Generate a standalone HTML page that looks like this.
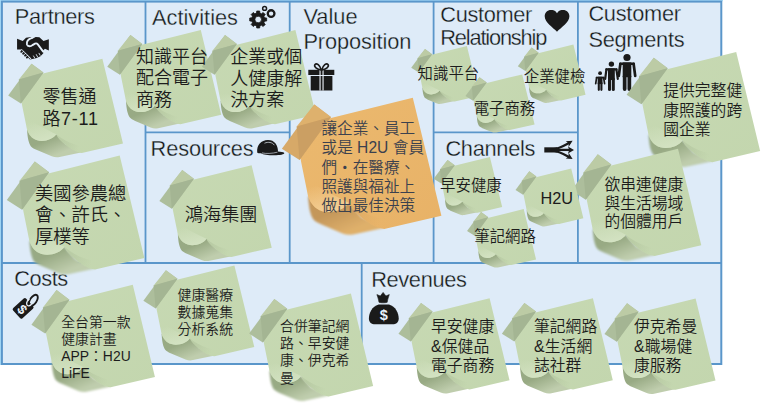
<!DOCTYPE html>
<html lang="zh-Hant"><head><meta charset="utf-8"><title>Business Model Canvas</title>
<style>html,body{margin:0;padding:0;background:#fff}svg{display:block}.t{font-family:"Liberation Sans",sans-serif;fill:#161616;stroke:#deebf8;stroke-width:0.3px;paint-order:fill stroke}.c{font-family:"Liberation Sans","Noto Sans CJK TC",sans-serif;fill:#1c1c1c;font-weight:350}</style></head><body>
<svg width="766" height="403" viewBox="0 0 766 403">
<defs><filter id="bl" x="-20%" y="-20%" width="140%" height="140%"><feGaussianBlur stdDeviation="0.9"/></filter>
<linearGradient id="fg-g" x1="0" y1="0" x2="1" y2="1"><stop offset="0" stop-color="#c7d9b3"/><stop offset="1" stop-color="#c3d6ae"/></linearGradient>
<linearGradient id="dg-g" gradientUnits="userSpaceOnUse" x1="-66" y1="95" x2="-58" y2="114"><stop offset="0" stop-color="#98aa84"/><stop offset="1" stop-color="#bfcdad"/></linearGradient>
<linearGradient id="hg-g" gradientUnits="userSpaceOnUse" x1="-76" y1="72" x2="-70" y2="96"><stop offset="0" stop-color="#d3e2c2" stop-opacity="0"/><stop offset="1" stop-color="#d3e2c2"/></linearGradient>
<radialGradient id="sg-g" cx="-50" cy="96" r="24" gradientUnits="userSpaceOnUse"><stop offset="0" stop-color="#98aa84" stop-opacity="0.28"/><stop offset="1" stop-color="#98aa84" stop-opacity="0"/></radialGradient>
<g id="note-g">
<path d="M-87.8,82.7 C-87.3,92 -86,98 -83.5,101.8 C-82,103.5 -80,104.6 -77,106 L-59,113.6 C-56,114.8 -53,115 -50,114.4 L-23.6,108.8 L-43,100 L-53.8,88 Z" fill="url(#dg-g)" filter="url(#bl)"/>
<path d="M-97.4,24.2 L0,0 L24,98.7 L-24,109.8 C-31,109 -37.5,105 -43,100.3 C-48,96 -52,93 -53.8,88 C-57.5,94 -68,97.2 -76,95 C-82.5,93 -86,88 -87.8,82.7 L-93.8,53.2 Z" fill="url(#fg-g)"/>
<path d="M-53.8,88 C-52,93 -48,96 -43,100.3 C-37.5,105 -31,109 -24,109.8 L2,103.8 C-22,105 -41,99 -53.8,88 Z" fill="url(#sg-g)"/>
<path d="M-87.8,82.7 C-86,88 -82.5,93 -76,95 C-68,97.2 -57.5,94 -53.8,88 C-63,83 -80,76 -91,66 Z" fill="url(#hg-g)"/>
<polygon points="-82.6,5.7 -68.7,16.1 -95,52.1 -109.8,42.7" fill="#adbe9c"/>
<polygon points="-82.6,5.7 -68.7,16.1 -97.4,24.2" fill="#bccba5"/>
<polygon points="-97.4,24.2 -68.7,16.1 -95,52.1" fill="#a4b593"/>
</g>
<linearGradient id="fg-o" x1="0" y1="0" x2="1" y2="1"><stop offset="0" stop-color="#ebb96f"/><stop offset="1" stop-color="#e8b267"/></linearGradient>
<linearGradient id="dg-o" gradientUnits="userSpaceOnUse" x1="-66" y1="95" x2="-58" y2="114"><stop offset="0" stop-color="#c4975a"/><stop offset="1" stop-color="#dfb06b"/></linearGradient>
<linearGradient id="hg-o" gradientUnits="userSpaceOnUse" x1="-76" y1="72" x2="-70" y2="96"><stop offset="0" stop-color="#f4d097" stop-opacity="0"/><stop offset="1" stop-color="#f4d097"/></linearGradient>
<radialGradient id="sg-o" cx="-50" cy="96" r="24" gradientUnits="userSpaceOnUse"><stop offset="0" stop-color="#c4975a" stop-opacity="0.28"/><stop offset="1" stop-color="#c4975a" stop-opacity="0"/></radialGradient>
<g id="note-o">
<path d="M-87.8,82.7 C-87.3,92 -86,98 -83.5,101.8 C-82,103.5 -80,104.6 -77,106 L-59,113.6 C-56,114.8 -53,115 -50,114.4 L-23.6,108.8 L-43,100 L-53.8,88 Z" fill="url(#dg-o)" filter="url(#bl)"/>
<path d="M-97.4,24.2 L0,0 L24,98.7 L-24,109.8 C-31,109 -37.5,105 -43,100.3 C-48,96 -52,93 -53.8,88 C-57.5,94 -68,97.2 -76,95 C-82.5,93 -86,88 -87.8,82.7 L-93.8,53.2 Z" fill="url(#fg-o)"/>
<path d="M-53.8,88 C-52,93 -48,96 -43,100.3 C-37.5,105 -31,109 -24,109.8 L2,103.8 C-22,105 -41,99 -53.8,88 Z" fill="url(#sg-o)"/>
<path d="M-87.8,82.7 C-86,88 -82.5,93 -76,95 C-68,97.2 -57.5,94 -53.8,88 C-63,83 -80,76 -91,66 Z" fill="url(#hg-o)"/>
<polygon points="-82.6,5.7 -68.7,16.1 -95,52.1 -109.8,42.7" fill="#d7a968"/>
<polygon points="-82.6,5.7 -68.7,16.1 -97.4,24.2" fill="#deb16d"/>
<polygon points="-97.4,24.2 -68.7,16.1 -95,52.1" fill="#cb9f63"/>
</g></defs>
<rect x="0" y="0" width="766" height="403" fill="#fff"/>
<rect x="0" y="0" width="723" height="1.2" fill="#a8dcf8"/><rect x="0" y="0" width="1.2" height="365" fill="#a8dcf8"/>
<rect x="1.9" y="1.6" width="719.4" height="362.4" fill="#deebf8" stroke="#5a96ca" stroke-width="2"/>
<line x1="145.5" y1="1.5" x2="145.5" y2="263" stroke="#5a96ca" stroke-width="1.8"/>
<line x1="289.7" y1="1.5" x2="289.7" y2="263" stroke="#5a96ca" stroke-width="1.8"/>
<line x1="433.6" y1="1.5" x2="433.6" y2="263" stroke="#5a96ca" stroke-width="1.8"/>
<line x1="577.9" y1="1.5" x2="577.9" y2="263" stroke="#5a96ca" stroke-width="1.8"/>
<line x1="361.7" y1="263" x2="361.7" y2="364" stroke="#5a96ca" stroke-width="1.8"/>
<line x1="1.9" y1="263" x2="721.3" y2="263" stroke="#5a96ca" stroke-width="1.8"/>
<line x1="145.5" y1="132.4" x2="289.7" y2="132.4" stroke="#5a96ca" stroke-width="1.8"/>
<line x1="433.6" y1="132.4" x2="577.9" y2="132.4" stroke="#5a96ca" stroke-width="1.8"/>
<text class="t" x="14.8" y="23.5" font-size="21.8" textLength="80" lengthAdjust="spacing">Partners</text>
<text class="t" x="152" y="24.5" font-size="21.8" textLength="86" lengthAdjust="spacing">Activities</text>
<text class="t" x="303.4" y="23.8" font-size="21.8">Value</text>
<text class="t" x="303.4" y="49.4" font-size="21.8" textLength="108" lengthAdjust="spacing">Proposition</text>
<text class="t" x="440.3" y="22" font-size="21.8" textLength="92" lengthAdjust="spacing">Customer</text>
<text class="t" x="440.3" y="44.9" font-size="21.8" textLength="107" lengthAdjust="spacing">Relationship</text>
<text class="t" x="588.4" y="21.4" font-size="21.8" textLength="92.6" lengthAdjust="spacing">Customer</text>
<text class="t" x="588.4" y="47.4" font-size="21.8" textLength="96.2" lengthAdjust="spacing">Segments</text>
<text class="t" x="150.6" y="155.6" font-size="21.8" textLength="103" lengthAdjust="spacing">Resources</text>
<text class="t" x="445.4" y="155.6" font-size="21.8" textLength="90" lengthAdjust="spacing">Channels</text>
<text class="t" x="14.2" y="286.4" font-size="21.8" textLength="54" lengthAdjust="spacing">Costs</text>
<text class="t" x="371.2" y="286.6" font-size="21.8" textLength="95.6" lengthAdjust="spacing">Revenues</text>
<g transform="translate(10,32) scale(0.07440)" fill="#1a1a1a">
<path d="M95,92 L172,120 L215,78 L285,68 L302,92 L345,66 L395,70 L450,122 L522,98 L522,250 L470,225 L445,250 L448,285 L410,325 L350,352 L300,364 L268,368 L150,250 L150,235 L95,235 Z"/>
<path d="M296,80 C250,96 220,130 228,168 C238,202 282,196 302,176 L336,156 C352,149 364,154 374,166 L446,264" fill="none" stroke="#e6f0fa" stroke-width="25" stroke-linecap="round"/>
<path d="M152,232 L282,362" fill="none" stroke="#e6f0fa" stroke-width="14"/>
<g stroke="#1a1a1a" stroke-width="25" stroke-linecap="round"><path d="M159,259 L151,267"/><path d="M184,285 L176,292"/><path d="M209,310 L202,318"/><path d="M235,336 L227,343"/></g>
<g stroke="#e6f0fa" stroke-width="12" stroke-linecap="round"><path d="M316,322 L332,350"/><path d="M354,304 L370,334"/><path d="M390,286 L404,312"/></g>
</g>
<path d="M266.67,18.02 L266.67,20.98 L264.59,21.14 L263.88,22.86 L265.24,24.45 L263.15,26.54 L261.56,25.18 L259.84,25.89 L259.68,27.97 L256.72,27.97 L256.56,25.89 L254.84,25.18 L253.25,26.54 L251.16,24.45 L252.52,22.86 L251.81,21.14 L249.73,20.98 L249.73,18.02 L251.81,17.86 L252.52,16.14 L251.16,14.55 L253.25,12.46 L254.84,13.82 L256.56,13.11 L256.72,11.03 L259.68,11.03 L259.84,13.11 L261.56,13.82 L263.15,12.46 L265.24,14.55 L263.88,16.14 L264.59,17.86 Z M261.5,19.5 A3.3,3.3 0 1,0 254.89999999999998,19.5 A3.3,3.3 0 1,0 261.5,19.5 Z" fill="#1a1a1a" fill-rule="evenodd" stroke="#1a1a1a" stroke-width="0.8" stroke-linejoin="round"/>
<circle cx="271.1" cy="13.6" r="3.35" fill="none" stroke="#1a1a1a" stroke-width="2.3"/>
<circle cx="264.6" cy="8.4" r="1.95" fill="none" stroke="#1a1a1a" stroke-width="1.5"/>
<g fill="#1a1a1a">
<rect x="308.3" y="69.8" width="26" height="5.2"/>
<rect x="310.7" y="76" width="21.7" height="14.5"/>
<rect x="319.5" y="69.8" width="1.1" height="20.7" fill="#eef4fb"/><rect x="322.5" y="69.8" width="1.1" height="20.7" fill="#eef4fb"/>
<path d="M321.2,70 C317,69.5 313.5,66.5 315,64.5 C316.5,62.8 320,65 321.2,70 Z M321.8,70 C326,69.5 329.5,66.5 328,64.5 C326.5,62.8 323,65 321.8,70 Z" fill="none" stroke="#1a1a1a" stroke-width="1.6"/>
</g>
<g fill="#1a1a1a">
<path d="M257.2,152.4 C256.6,145 261,140.1 268,140.1 C274.5,140.1 278,145 278,151.5 C280.5,151.6 283.5,152 284.3,153 C284.6,154.6 279,155.4 272,155.2 C266,155 261.5,154 261,153.2 C259.5,153.2 257.8,153 257.2,152.4 Z"/>
<path d="M264.5,143.2 C268,141.6 272.5,142.2 274.3,145.2" fill="none" stroke="#eaf2fb" stroke-width="0.7"/>
<path d="M262,152.9 C266,153.8 272,153.6 277.5,152.2" fill="none" stroke="#eaf2fb" stroke-width="0.6"/>
</g>
<path d="M557,13.2 C558.5,10.6 561,10.1 563,10.1 C566.6,10.1 569.4,12.8 569.4,16.3 C569.4,22.5 561,27.5 557,31.8 C553,27.5 544.7,22.5 544.7,16.3 C544.7,12.8 547.4,10.1 551,10.1 C553,10.1 555.5,10.6 557,13.2 Z" fill="#1a1a1a"/>
<g stroke="#1a1a1a" fill="#1a1a1a" stroke-linecap="round" stroke-linejoin="round"><circle cx="627.0" cy="57.5" r="3.6" stroke="none"/><path d="M620.4,63.75 L633.6,63.75" stroke-width="2.7" fill="none"/><path d="M620.4,63.75 L618.8,75.9" stroke-width="2.7" fill="none"/><path d="M633.6,63.75 L635.2,75.9" stroke-width="2.7" fill="none"/><rect x="622.7" y="62.4" width="8.6" height="14.82" stroke="none"/><path d="M624.65,76.22 L624.65,89.05000000000001" stroke-width="3.7" fill="none"/><path d="M629.35,76.22 L629.35,89.05000000000001" stroke-width="3.7" fill="none"/></g>
<g stroke="#1a1a1a" fill="#1a1a1a" stroke-linecap="round" stroke-linejoin="round"><circle cx="611.4" cy="64.1" r="2.7" stroke="none"/><path d="M606.4,69.39999999999999 L616.4,69.39999999999999" stroke-width="2.2" fill="none"/><path d="M606.4,69.39999999999999 L605.1999999999999,78.8" stroke-width="2.2" fill="none"/><path d="M616.4,69.39999999999999 L617.8,78.8" stroke-width="2.2" fill="none"/><rect x="608.0" y="68.3" width="6.8" height="11.75200000000001" stroke="none"/><path d="M609.5,79.052 L609.5,89.4" stroke-width="3.0" fill="none"/><path d="M613.3,79.052 L613.3,89.4" stroke-width="3.0" fill="none"/></g>
<g stroke="#1a1a1a" fill="#1a1a1a" stroke-linecap="round" stroke-linejoin="round"><circle cx="600.1" cy="73.2" r="1.9" stroke="none"/><path d="M596.6,77.55 L603.6,77.55" stroke-width="1.7" fill="none"/><path d="M596.6,77.55 L595.7,83.7" stroke-width="1.7" fill="none"/><path d="M603.6,77.55 L604.6,83.7" stroke-width="1.7" fill="none"/><rect x="597.7" y="76.7" width="4.8" height="7.384" stroke="none"/><path d="M598.8000000000001,83.084 L598.8000000000001,89.85000000000001" stroke-width="2.1" fill="none"/><path d="M601.4,83.084 L601.4,89.85000000000001" stroke-width="2.1" fill="none"/></g>
<g fill="none" stroke="#1a1a1a" stroke-linecap="butt">
<path d="M544.3,149.9 L557,149.9" stroke-width="5.2"/>
<path d="M552,149.5 C560,148.5 565,145 570,142.3" stroke-width="2.3"/>
<path d="M552,150.3 C560,151.3 565,154.8 570,157.5" stroke-width="2.3"/>
<path d="M555,149.9 L571,149.9" stroke-width="2.3"/>
</g>
<g fill="#1a1a1a"><path d="M574,149.9 L568,146.4 L569.2,149.9 L568,153.4 Z"/><path d="M572.6,140.8 L565.8,141.2 L568.6,143.2 L568.6,147 Z"/><path d="M572.6,159 L565.8,158.6 L568.6,156.6 L568.6,152.8 Z"/></g>
<g transform="translate(23.1,308.4) rotate(-42)">
<rect x="-8.8" y="-6.9" width="17.6" height="13.8" rx="1.8" fill="#1a1a1a"/>
<text x="-1.8" y="4.4" font-family="Liberation Sans, sans-serif" font-weight="bold" font-size="13.5" fill="#eaf2fb" text-anchor="middle" transform="rotate(90 -1.8 0.2)">$</text>
<ellipse cx="13" cy="0.9" rx="6.3" ry="3.3" fill="none" stroke="#1a1a1a" stroke-width="1.9" transform="rotate(-14 13 0.9)"/>
<path d="M8.6,2.6 C5.2,2.8 4.2,0.2 6.2,-1.6 C7.4,-2.6 9.2,-3 10.6,-2.8" fill="none" stroke="#eaf2fb" stroke-width="1.3" stroke-linecap="round"/>
</g>
<g fill="#1a1a1a">
<path d="M378.6,304.5 C372,306.5 368.9,313 368.9,318.5 C368.9,322.5 371.5,324.3 375,324.3 L392.6,324.3 C396.1,324.3 398.7,322.5 398.7,318.5 C398.7,313 395.6,306.5 389,304.5 Z"/>
<path d="M379,302.3 C378.5,299 377.5,296.5 376.9,294.6 L380.3,296 L383.1,292.4 L385.9,296 L389.3,294.6 C388.7,296.5 387.7,299 387.2,302.3 C384.5,303 381.7,303 379,302.3 Z" stroke="#1a1a1a" stroke-width="0.6" stroke-linejoin="round"/>
<text x="383.8" y="319.6" font-family="Liberation Sans, sans-serif" font-weight="bold" font-size="14.5" fill="#eaf2fb" text-anchor="middle">$</text>
</g>
<g transform="translate(119.7,155.6) scale(1.028,1.037)"><use href="#note-g"/></g>
<g transform="translate(102.4,58.8) scale(0.858,0.858)"><use href="#note-g"/></g>
<g transform="translate(200.8,30.1) scale(0.852,0.857)"><use href="#note-g"/></g>
<g transform="translate(295.4,30.1) scale(0.852,0.857)"><use href="#note-g"/></g>
<g transform="translate(251.6,165.2) scale(0.84,0.836)"><use href="#note-g"/></g>
<g transform="translate(412.8,97.7) scale(1.192,1.195)"><use href="#note-o"/></g>
<g transform="translate(466.9,46.1) scale(0.507,0.505)"><use href="#note-g"/></g>
<g transform="translate(522.2,74.4) scale(0.517,0.507)"><use href="#note-g"/></g>
<g transform="translate(573.4,44.5) scale(0.506,0.51)"><use href="#note-g"/></g>
<g transform="translate(489.9,157.0) scale(0.512,0.507)"><use href="#note-g"/></g>
<g transform="translate(523.7,209.1) scale(0.516,0.51)"><use href="#note-g"/></g>
<g transform="translate(736.2,52.0) scale(0.998,1.003)"><use href="#note-g"/></g>
<g transform="translate(678.0,148.8) scale(0.971,0.976)"><use href="#note-g"/></g>
<g transform="translate(571.2,168.4) scale(0.507,0.506)"><use href="#note-g"/></g>
<g transform="translate(132.8,284.8) scale(0.923,0.934)"><use href="#note-g"/></g>
<g transform="translate(234.4,265.5) scale(0.829,0.827)"><use href="#note-g"/></g>
<g transform="translate(350.9,293.6) scale(0.927,0.937)"><use href="#note-g"/></g>
<g transform="translate(489.6,298.2) scale(0.83,0.831)"><use href="#note-g"/></g>
<g transform="translate(592.9,298.2) scale(0.829,0.831)"><use href="#note-g"/></g>
<g transform="translate(695.6,298.4) scale(0.83,0.833)"><use href="#note-g"/></g>
<text class="c" x="42.4" y="103.2" font-size="18">零售通</text>
<text class="c" x="42.4" y="125.1" font-size="18" textLength="55.6" lengthAdjust="spacing">路7-11</text>
<text class="c" x="35" y="199.5" font-size="18.3">美國參農總</text>
<text class="c" x="35" y="221.4" font-size="18.3">會、許氏、</text>
<text class="c" x="35" y="243.3" font-size="18.3">厚樸等</text>
<text class="c" x="136.1" y="62.6" font-size="18">知識平台</text>
<text class="c" x="136.1" y="84.4" font-size="18">配合電子</text>
<text class="c" x="136.1" y="106.2" font-size="18">商務</text>
<text class="c" x="230.3" y="62.8" font-size="18">企業或個</text>
<text class="c" x="230.3" y="84.6" font-size="18">人健康解</text>
<text class="c" x="230.3" y="106.4" font-size="18">決方案</text>
<text class="c" x="184.8" y="221.4" font-size="18.2">鴻海集團</text>
<text class="c" x="321.5" y="134.2" font-size="15.6" style="fill:#3b414e">讓企業、員工</text>
<text class="c" x="321.5" y="153.4" font-size="15.6" style="fill:#3b414e" textLength="102.5" lengthAdjust="spacing">或是 H2U 會員</text>
<text class="c" x="321.5" y="172.6" font-size="15.6" style="fill:#3b414e">們‧在醫療、</text>
<text class="c" x="321.5" y="191.8" font-size="15.6" style="fill:#3b414e">照護與福祉上</text>
<text class="c" x="321.5" y="211.0" font-size="15.6" style="fill:#3b414e">做出最佳決策</text>
<text class="c" x="417.6" y="79.0" font-size="15.4">知識平台</text>
<text class="c" x="473.7" y="113.6" font-size="15.4">電子商務</text>
<text class="c" x="523.8" y="82.3" font-size="15.4">企業健檢</text>
<text class="c" x="440.1" y="190.7" font-size="15.4">早安健康</text>
<text class="c" x="540.5" y="203.6" font-size="16.3">H2U</text>
<text class="c" x="474.3" y="242.2" font-size="15.4">筆記網路</text>
<text class="c" x="663.2" y="96.4" font-size="15.8">提供完整健</text>
<text class="c" x="663.2" y="115.8" font-size="15.8">康照護的跨</text>
<text class="c" x="663.2" y="135.2" font-size="15.8">國企業</text>
<text class="c" x="604.4" y="189.8" font-size="15.8">欲串連健康</text>
<text class="c" x="604.4" y="208.6" font-size="15.8">與生活場域</text>
<text class="c" x="604.4" y="227.4" font-size="15.8">的個體用戶</text>
<text class="c" x="61.2" y="327.0" font-size="13.9">全台第一款</text>
<text class="c" x="61.2" y="344.1" font-size="13.9">健康計畫</text>
<text class="c" x="61.2" y="361.2" font-size="13.9">APP：H2U</text>
<text class="c" x="61.2" y="378.3" font-size="13.9">LiFE</text>
<text class="c" x="177.5" y="299.5" font-size="13.9">健康醫療</text>
<text class="c" x="177.5" y="316.7" font-size="13.9">數據蒐集</text>
<text class="c" x="177.5" y="333.9" font-size="13.9">分析系統</text>
<text class="c" x="280" y="331.2" font-size="13.9">合併筆記網</text>
<text class="c" x="280" y="348.3" font-size="13.9">路、早安健</text>
<text class="c" x="280" y="365.4" font-size="13.9">康、伊克希</text>
<text class="c" x="280" y="382.5" font-size="13.9">曼</text>
<text class="c" x="431" y="332.0" font-size="15.8">早安健康</text>
<text class="c" x="431" y="351.6" font-size="15.8" textLength="58.3" lengthAdjust="spacing">&amp;保健品</text>
<text class="c" x="431" y="371.2" font-size="15.8">電子商務</text>
<text class="c" x="534" y="332.0" font-size="15.8">筆記網路</text>
<text class="c" x="534" y="351.6" font-size="15.8" textLength="58.3" lengthAdjust="spacing">&amp;生活網</text>
<text class="c" x="534" y="371.2" font-size="15.8">誌社群</text>
<text class="c" x="634" y="332.0" font-size="15.8">伊克希曼</text>
<text class="c" x="634" y="351.6" font-size="15.8" textLength="58.3" lengthAdjust="spacing">&amp;職場健</text>
<text class="c" x="634" y="371.2" font-size="15.8">康服務</text>
</svg></body></html>
